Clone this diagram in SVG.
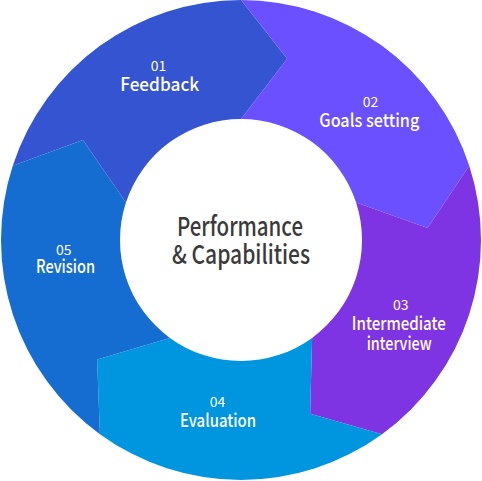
<svg xmlns="http://www.w3.org/2000/svg" width="482" height="481" viewBox="0 0 482 481">
<style>
text{font-family:"Noto Sans CJK KR","Noto Sans",sans-serif;text-anchor:middle}
.num{font-size:14px;fill:#fff}
.lbl{font-size:18px;fill:#fff;font-weight:500}
.ctr{font-size:26px;fill:#3a3a3a;font-weight:500}
</style>
<rect width="482" height="481" fill="#fff"/>
<g id="seg1">
<path fill="#3454D2" d="M12.75 165.84A240 240 0 0 1 241 0L287.2 58.8L241 119A121 121 0 0 0 125.92 202.61L82.94 140.08Z"/>
<text class="num" x="158.5" y="71">01</text>
<text class="lbl" x="159.7" y="91" textLength="79" lengthAdjust="spacingAndGlyphs">Feedback</text>
</g>
<g id="seg2">
<path fill="#6A50FE" d="M241 0A240 240 0 0 1 469.25 165.84L427.61 227.93L356.08 202.61A121 121 0 0 0 241 119L287.2 58.8Z"/>
<text class="num" x="370.5" y="107">02</text>
<text class="lbl" x="369.3" y="126.5" textLength="100" lengthAdjust="spacingAndGlyphs">Goals setting</text>
</g>
<g id="seg3">
<path fill="#7F34E4" d="M469.25 165.84A240 240 0 0 1 382.07 434.16L310.14 413.75L312.12 337.89A121 121 0 0 0 356.08 202.61L427.61 227.93Z"/>
<text class="num" x="400.8" y="309.5">03</text>
<text class="lbl" x="398.8" y="329.5" textLength="94" lengthAdjust="spacingAndGlyphs">Intermediate</text>
<text class="lbl" x="399.2" y="350" textLength="65" lengthAdjust="spacingAndGlyphs">interview</text>
</g>
<g id="seg4">
<path fill="#0095DF" d="M382.07 434.16A240 240 0 0 1 99.93 434.16L97.12 359.45L169.88 337.89A121 121 0 0 0 312.12 337.89L310.14 413.75Z"/>
<text class="num" x="217.5" y="407.3">04</text>
<text class="lbl" x="218" y="427.3" textLength="76" lengthAdjust="spacingAndGlyphs">Evaluation</text>
</g>
<g id="seg5">
<path fill="#166DD1" d="M99.93 434.16A240 240 0 0 1 12.75 165.84L82.94 140.08L125.92 202.61A121 121 0 0 0 169.88 337.89L97.12 359.45Z"/>
<text class="num" x="63.8" y="255">05</text>
<text class="lbl" x="65.5" y="273" textLength="59" lengthAdjust="spacingAndGlyphs">Revision</text>
</g>
<g id="center">
<text class="ctr" x="240" y="236" textLength="126" lengthAdjust="spacingAndGlyphs">Performance</text>
<text class="ctr" x="241" y="264" textLength="138" lengthAdjust="spacingAndGlyphs">&amp; Capabilities</text>
</g>
<g id="connectors"/>
</svg>
